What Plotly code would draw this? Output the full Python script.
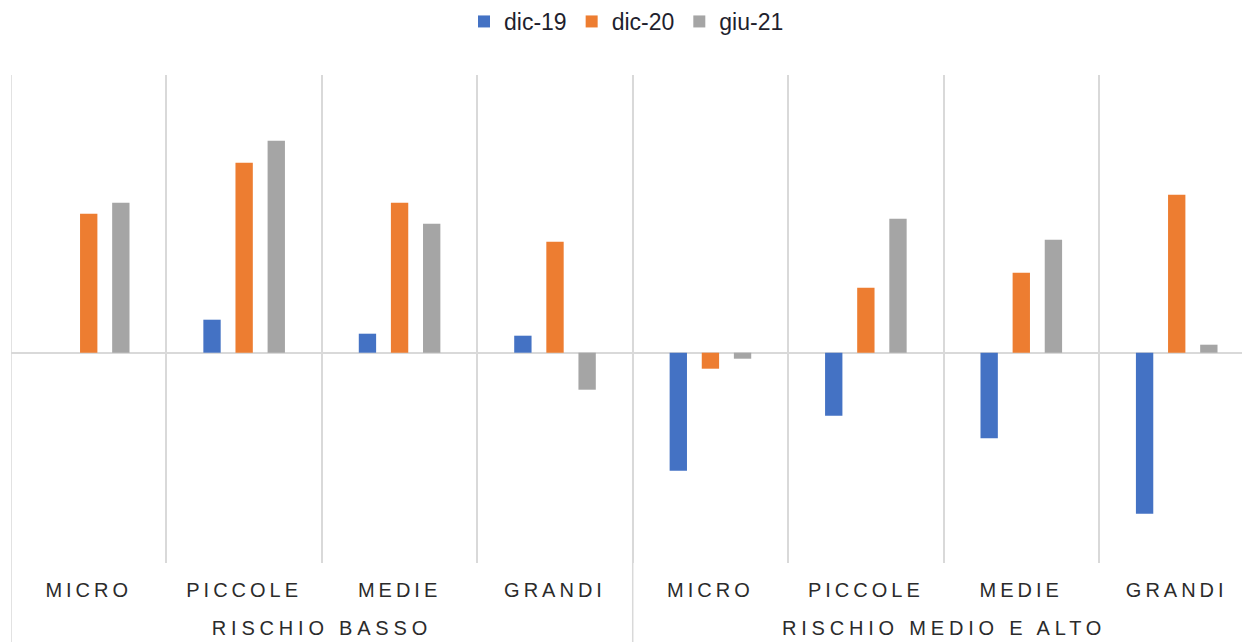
import plotly.graph_objects as go

# Risk classes and company sizes
groups = ["RISCHIO BASSO"] * 4 + ["RISCHIO MEDIO E ALTO"] * 4
sizes = ["MICRO", "PICCOLE", "MEDIE", "GRANDI"] * 2

# Variations per period
dic19 = [0, 33, 19, 17, -118, -63, -85.5, -161]
dic20 = [139, 190, 150, 111, -16, 65, 80, 158]
giu21 = [150, 212, 129, -37, -6, 134, 113, 8]

series = [
    ("dic-19", dic19, "#4472C4"),
    ("dic-20", dic20, "#ED7D31"),
    ("giu-21", giu21, "#A5A5A5"),
]

pos = list(range(len(sizes)))
grid = "#D9D9D9"
text_color = "#2B2B2B"

fig = go.Figure()
for name, vals, color in series:
    fig.add_trace(go.Bar(
        x=pos, y=vals, name=name, legendgroup=name, showlegend=False,
        marker=dict(color=color, line=dict(width=0)),
    ))
# Square legend keys
for name, vals, color in series:
    fig.add_trace(go.Scatter(
        x=[None], y=[None], mode="markers", name=name, legendgroup=name,
        marker=dict(symbol="square", size=12, color=color),
    ))

# Group dividers (left edge of each risk class) run through the label area
group_names = list(dict.fromkeys(groups))
shapes = []
annotations = []
for g in group_names:
    idx = [i for i, v in enumerate(groups) if v == g]
    shapes.append(dict(
        type="line", xref="x", yref="paper",
        x0=idx[0] - 0.5, x1=idx[0] - 0.5, y0=-0.17, y1=1,
        line=dict(color=grid, width=1.5), layer="below",
    ))
    annotations.append(dict(
        x=sum(idx) / len(idx), xref="x", y=-0.1332, yref="paper",
        yanchor="middle", xanchor="center", showarrow=False, text=g,
        font=dict(size=20, color=text_color),
    ))

fig.update_layout(
    width=1242, height=642,
    margin=dict(l=11, r=0, t=75, b=79),
    paper_bgcolor="white", plot_bgcolor="white",
    barmode="group", bargap=0.38, bargroupgap=0.46,
    font=dict(family="Liberation Sans, Arial, sans-serif", color=text_color),
    legend=dict(
        orientation="h", x=0.5, xanchor="center", y=1.11, yanchor="middle",
        font=dict(size=23, color="#1F1F2E"), itemwidth=30,
        traceorder="normal",
    ),
    xaxis=dict(
        range=[-0.5, 7.42], tickmode="array", tickvals=pos, ticktext=sizes,
        showgrid=False, ticks="", showline=False, zeroline=False,
        ticklabelstandoff=13,
        tickfont=dict(size=20, color=text_color),
        minor=dict(tickmode="array",
                   tickvals=[p + 0.5 for p in pos[:-1]],
                   showgrid=True, gridcolor=grid, gridwidth=1.5, ticks=""),
    ),
    yaxis=dict(
        range=[-210.3, 277.7], showgrid=False, showticklabels=False,
        zeroline=True, zerolinecolor=grid, zerolinewidth=1.5,
    ),
    shapes=shapes,
    annotations=annotations,
)

spacing_js = """
document.querySelectorAll('.xaxislayer-above text').forEach(function(t){
  t.style.letterSpacing = '4px';
});
document.querySelectorAll('.annotation-text').forEach(function(t){
  t.style.letterSpacing = '4.8px';
});
"""
fig.write_html("out.html", post_script=spacing_js)
